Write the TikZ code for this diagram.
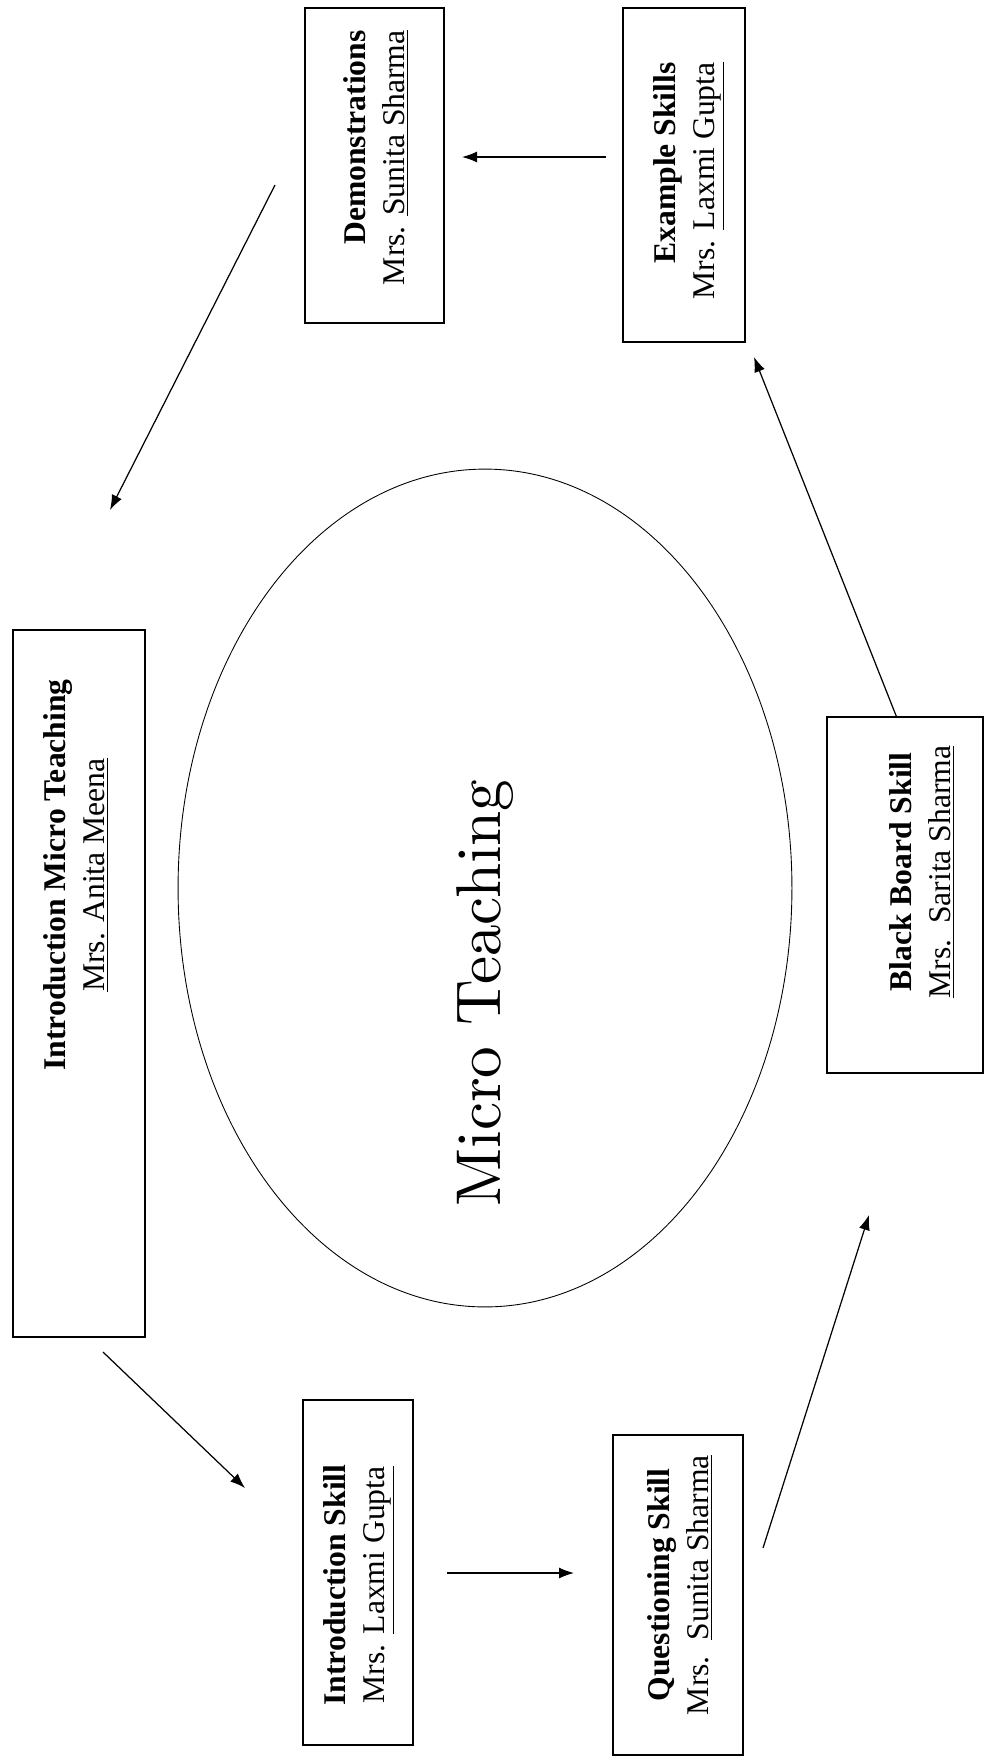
\documentclass[tikz,border=0pt]{standalone}
\usepackage{fontspec}
\newfontfamily\timesfont{Liberation Serif}
\newfontfamily\hubfont{lmroman10-regular.otf}
\usetikzlibrary{arrows.meta,shapes.geometric}

\tikzset{
  skillbox/.style={draw, line width=0.9pt, inner sep=0pt},
  skilltext/.style={rotate=90, inner sep=0pt, align=center,
    font=\timesfont\fontsize{18}{22}\selectfont},
  flow/.style={-{Latex[length=3mm,width=2.2mm]}, line width=0.7pt},
}

\begin{document}
\begin{tikzpicture}[x=0.02cm, y=-0.02cm]
  \useasboundingbox (0,0) rectangle (985,1759);
  \clip (0,0) rectangle (985,1759);
  % centre ellipse
  \node[draw, ellipse, line width=0.5pt, inner sep=0pt,
        minimum width=12.28cm, minimum height=16.76cm] (hub) at (485,888) {};
  \node[rotate=90, font=\hubfont\fontsize{36}{40}\selectfont] (hubtext) at (485,993) {Micro Teaching};
  % boxes
  \node[skillbox, minimum width=2.64cm, minimum height=14.14cm] (intmicro) at (79,983.5) {};
  \node[skillbox, minimum width=2.78cm, minimum height=6.30cm] (demo) at (374.5,165.5) {};
  \node[skillbox, minimum width=2.44cm, minimum height=6.68cm] (example) at (684,175) {};
  \node[skillbox, minimum width=3.12cm, minimum height=7.12cm] (blackboard) at (905,895) {};
  \node[skillbox, minimum width=2.20cm, minimum height=6.90cm] (introskill) at (358,1572.5) {};
  \node[skillbox, minimum width=2.60cm, minimum height=6.40cm] (question) at (678,1595) {};
  % box texts
  \node[skilltext] (intmicrotext) at (76,875)
    {\textbf{Introduction Micro Teaching}\\\underline{Mrs. Anita Meena}};
  \node[skilltext, align=right, anchor=east] (demotext) at (376,30)
    {\textbf{Demonstrations}\\Mrs. \underline{Sunita Sharma}};
  \node[skilltext, align=right, anchor=east] (exampletext) at (689,62)
    {\textbf{Example Skills}\\Mrs. \underline{Laxmi Gupta}};
  \node[skilltext] (blackboardtext) at (922,872)
    {\textbf{Black Board Skill}\\\underline{Mrs.\ \ Sarita Sharma}};
  \node[skilltext] (introskilltext) at (359,1585)
    {\textbf{Introduction Skill}\\Mrs. \underline{Laxmi Gupta}};
  \node[skilltext] (questiontext) at (680,1585)
    {\textbf{Questioning Skill}\\Mrs.\ \ \underline{Sunita Sharma}};
  % arrow ends
  \coordinate (demo-out) at (275,185);
  \coordinate (intmicro-in) at (110,510);
  \coordinate (intmicro-out) at (103,1352);
  \coordinate (introskill-in) at (245,1488);
  \coordinate (introskill-out) at (447,1573);
  \coordinate (question-in) at (574,1573);
  \coordinate (question-out) at (763,1548);
  \coordinate (blackboard-in) at (869,1215);
  \coordinate (blackboard-out) at (897,718);
  \coordinate (example-in) at (754,357);
  \coordinate (example-out) at (606,157);
  \coordinate (demo-in) at (462,157);
  % arrows
  \draw[flow] (demo-out) -- (intmicro-in);
  \draw[flow] (intmicro-out) -- (introskill-in);
  \draw[flow] (introskill-out) -- (question-in);
  \draw[flow] (question-out) -- (blackboard-in);
  \draw[flow] (blackboard-out) -- (example-in);
  \draw[flow] (example-out) -- (demo-in);
\end{tikzpicture}
\end{document}
